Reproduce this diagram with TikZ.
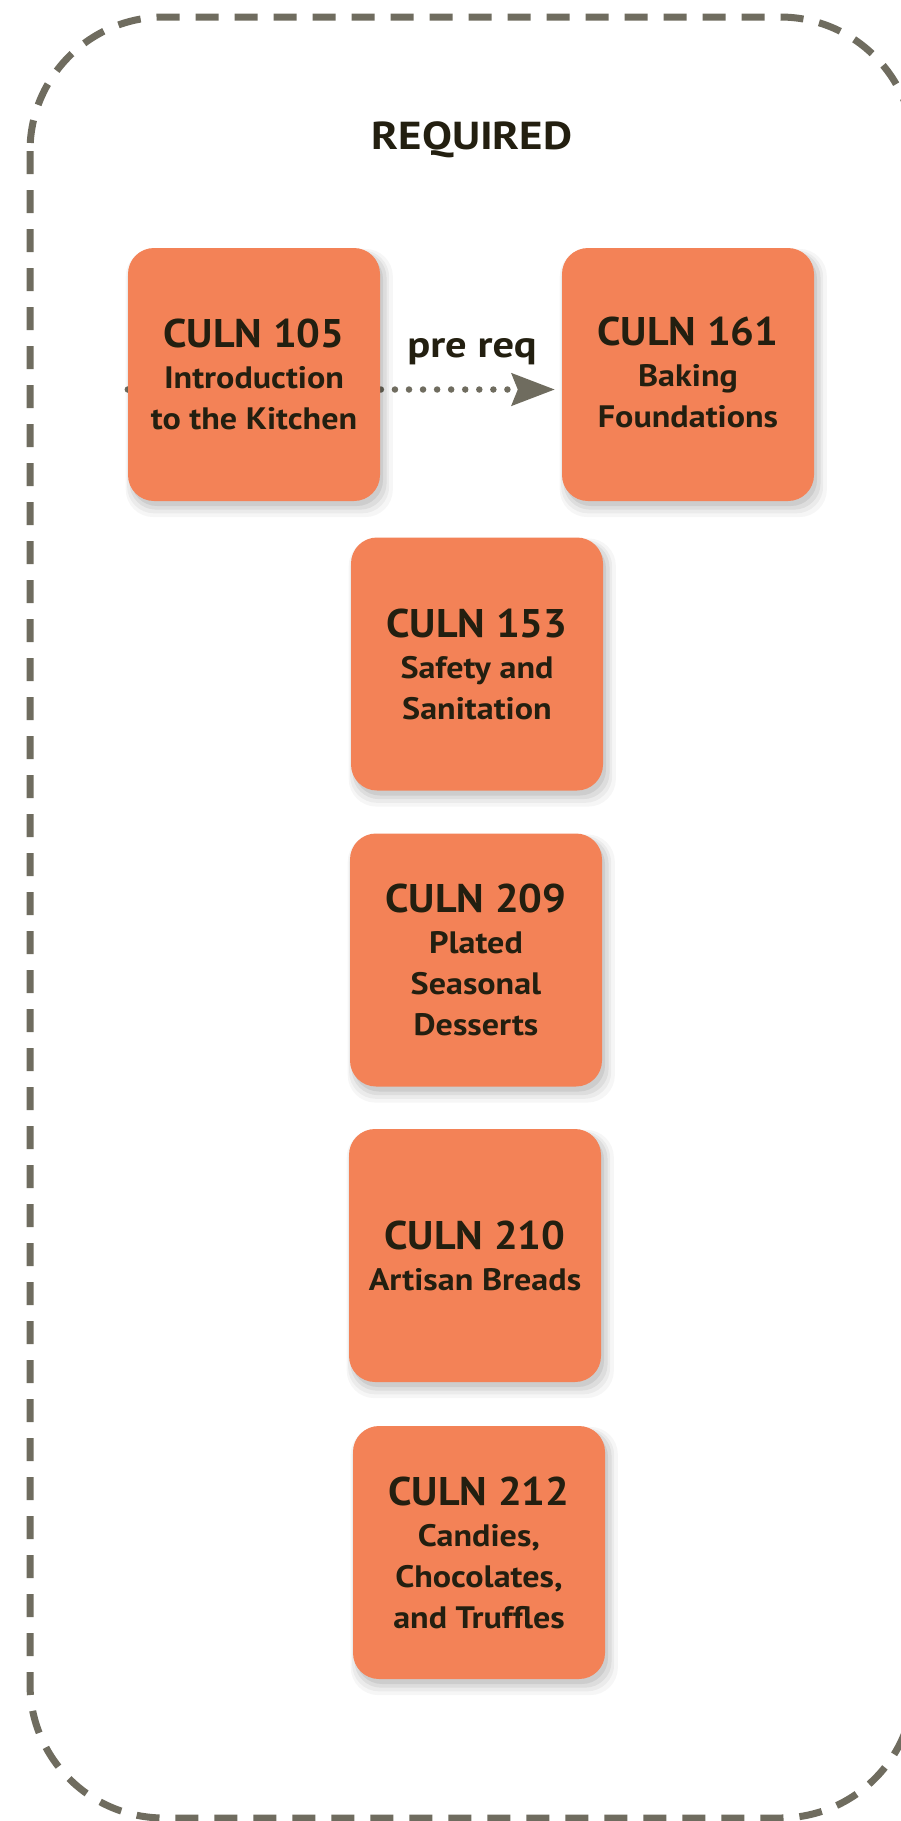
\documentclass[tikz,border=0pt]{standalone}
\usepackage{fontspec}
\setmainfont{PT Sans}
\newfontfamily\subfont{PT Sans}[FakeStretch=1.1]
\newfontfamily\numfont{PT Sans}[FakeStretch=1.05]
\newfontfamily\headfont{PT Sans}[FakeStretch=1.15]
\usetikzlibrary{arrows.meta,shadows,backgrounds}
\definecolor{boxfill}{HTML}{F38257}
\definecolor{ink}{HTML}{231F10}
\definecolor{linegray}{HTML}{6F6C5F}
\newcommand\cttl[1]{{\numfont\bfseries\fontsize{40}{41}\selectfont #1}}
\tikzset{
  course/.style={draw=none, fill=boxfill, rounded corners=26pt,
    minimum width=252pt, minimum height=253pt, inner sep=0pt,
    align=center, text=ink, font=\subfont\bfseries\fontsize{31}{41}\selectfont,
    general shadow={shadow xshift=5pt, shadow yshift=-8pt, shadow scale=1.06, fill=black, opacity=0.035},
    general shadow={shadow xshift=4pt, shadow yshift=-7pt, shadow scale=1.04, fill=black, opacity=0.045},
    general shadow={shadow xshift=4pt, shadow yshift=-6pt, shadow scale=1.02, fill=black, opacity=0.06},
    general shadow={shadow xshift=3pt, shadow yshift=-5pt, shadow scale=1.0, fill=black, opacity=0.07}},
  heading/.style={text=ink, anchor=base, inner sep=0pt},
  border/.style={draw=linegray, line width=7pt, dash pattern=on 23pt off 16pt, rounded corners=134pt},
  prereqline/.style={draw=linegray, line width=6.5pt, line cap=round, dash pattern=on 0pt off 14.06pt,
    -{Stealth[length=43pt,width=32pt,inset=6pt,fill=linegray]}, shorten >=7pt}
}
\begin{document}
\begin{tikzpicture}[x=1pt,y=-1pt]
\useasboundingbox (0,0) rectangle (901,1821);
\draw[border] (30,17) rectangle (914,1818);

\node[heading, font=\headfont\bfseries\fontsize{39}{40}\selectfont] (title) at (472,149) {REQUIRED};

\node[course] (c105) at (254,374.5) {\cttl{CULN 105}\\Introduction\\to the Kitchen};
\node[course, text depth=5pt] (c161) at (688,374.5) {\cttl{CULN 161}\\Baking\\Foundations};
\node[course] (c153) at (477,664) {\cttl{CULN 153}\\Safety and\\Sanitation};
\node[course] (c209) at (476,960) {\cttl{CULN 209}\\Plated\\Seasonal\\Desserts};
\node[course] (c210) at (475,1255.5) {\cttl{CULN 210}\\Artisan Breads};
\node[course] (c212) at (479,1552.5) {\cttl{CULN 212}\\Candies,\\Chocolates,\\and Truffles};

\node[heading, font=\headfont\bfseries\fontsize{37}{40}\selectfont] (prereq) at (472,357) {pre req};

\begin{scope}[on background layer]
\fill[white] (0,0) rectangle (901,1821);
\draw[prereqline] ([yshift=-15pt]c105.west) -- ([yshift=-15pt]c161.west);
\end{scope}
\end{tikzpicture}
\end{document}
